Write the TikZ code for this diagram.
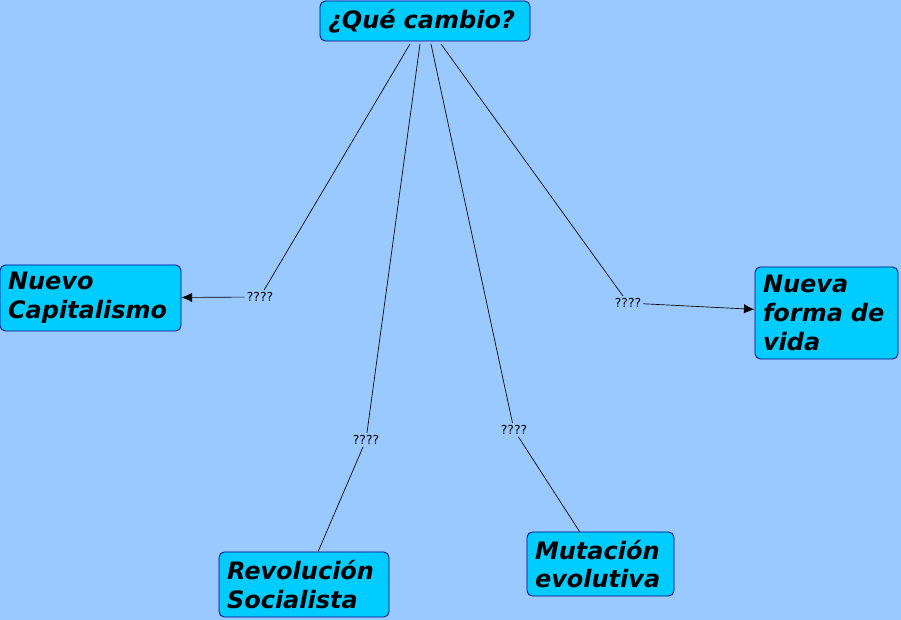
\documentclass[tikz,border=0pt]{standalone}
\usepackage{fontspec}
\setmainfont{DejaVu Sans}
\usetikzlibrary{arrows.meta}
\definecolor{bgblue}{RGB}{153,201,255}
\definecolor{boxfill}{RGB}{0,204,255}
\definecolor{boxline}{RGB}{0,0,140}
\tikzset{
  concept/.style={draw=boxline, fill=boxfill, rounded corners=4pt, line width=0.6pt,
    inner xsep=6pt, inner ysep=2pt, align=left,
    font=\fontsize{18}{21.5}\selectfont\bfseries\itshape},
  qlabel/.style={inner sep=1.5pt, font=\fontsize{9.3}{11}\selectfont},
  link/.style={draw=black, line width=0.5pt},
  arrowlink/.style={link, -{Latex[length=8pt,width=7pt]}},
}
\begin{document}
\begin{tikzpicture}[x=0.75pt,y=-0.75pt]
\fill[bgblue] (0,0) rectangle (901,620);
\useasboundingbox (0,0) rectangle (901,620);

\node[concept, minimum width=157.5pt, minimum height=30pt, text width=145.5pt] (top) at (425,21) {¿Qué cambio?};
\node[concept, minimum width=135.75pt, minimum height=49.5pt, text width=123.75pt] (nc) at (90.5,298) {Nuevo\\Capitalismo};
\node[concept, minimum width=107.25pt, minimum height=69pt, text width=95.25pt] (nf) at (826.5,313) {Nueva\\forma de\\vida};
\node[concept, minimum width=127.5pt, minimum height=48.75pt, text width=115.5pt] (rs) at (304,584.5) {Revolución\\Socialista};
\node[concept, minimum width=110.25pt, minimum height=48pt, text width=98.25pt] (me) at (600.5,564) {Mutación\\evolutiva};

\node[qlabel] (l1) at (260,297) {????};
\node[qlabel] (l2) at (628,303) {????};
\node[qlabel] (l3) at (366,440) {????};
\node[qlabel] (l4) at (514,430) {????};

\coordinate (s1) at (410,44);
\coordinate (s2) at (441,44);
\coordinate (s3) at (420,44);
\coordinate (s4) at (431,44);

\draw[link] (s1) -- (l1);
\draw[arrowlink] (l1) -- (nc);
\draw[link] (s2) -- (l2);
\draw[arrowlink] (l2) -- (nf);
\draw[link] (s3) -- (l3);
\draw[link] (l3) -- (rs);
\draw[link] (s4) -- (l4);
\draw[link] (l4) -- (me);
\end{tikzpicture}
\end{document}
